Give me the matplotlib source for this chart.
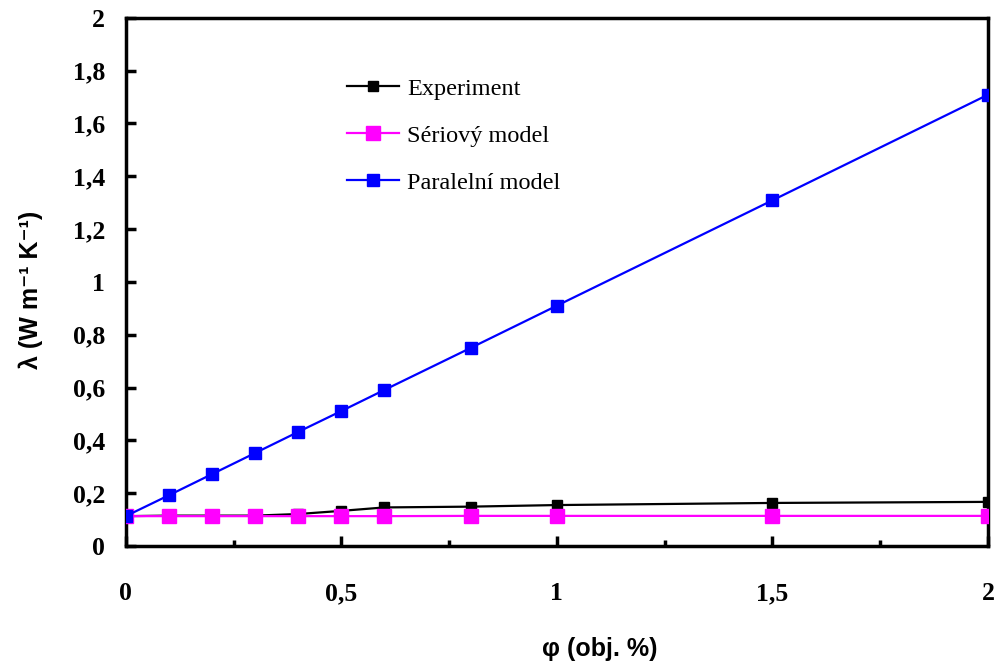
import matplotlib
matplotlib.use('Agg')
import matplotlib.pyplot as plt
from matplotlib.ticker import FuncFormatter, MultipleLocator

# Data
phi = [0, 0.1, 0.2, 0.3, 0.4, 0.5, 0.6, 0.8, 1.0, 1.5, 2.0]
experiment = [0.113, 0.115, 0.115, 0.115, 0.121, 0.133, 0.146, 0.149, 0.155, 0.163, 0.167]
seriovy = [0.113, 0.113, 0.113, 0.113, 0.113, 0.113, 0.113, 0.114, 0.114, 0.114, 0.114]
paralelni = [0.113, 0.192, 0.272, 0.352, 0.432, 0.511, 0.591, 0.750, 0.910, 1.309, 1.709]

fig = plt.figure(figsize=(9.98, 6.61), dpi=100)
ax = fig.add_axes([0.126, 0.174, 0.864, 0.799])

ax.plot(phi, experiment, color='black', lw=1.6, marker='s', ms=7, label='Experiment', zorder=3)
ax.plot(phi, seriovy, color='#ff00ff', lw=1.6, marker='s', ms=10, label='Sériový model', zorder=4)
ax.plot(phi, paralelni, color='#0000ff', lw=1.6, marker='s', ms=8, label='Paralelní model', zorder=5)

ax.set_xlim(0, 2)
ax.set_ylim(0, 2)
ax.xaxis.set_major_locator(MultipleLocator(0.5))
ax.xaxis.set_minor_locator(MultipleLocator(0.25))
ax.yaxis.set_major_locator(MultipleLocator(0.2))

comma = FuncFormatter(lambda v, p: ('%g' % round(v, 2)).replace('.', ','))
ax.xaxis.set_major_formatter(comma)
ax.yaxis.set_major_formatter(comma)

for s in ax.spines.values():
    s.set_linewidth(2.5)
ax.tick_params(axis='both', which='major', direction='in', length=7, width=2.5)
ax.tick_params(axis='x', which='minor', direction='in', length=4, width=2.5)
ax.tick_params(axis='x', which='major', pad=26)
ax.tick_params(axis='y', which='major', pad=15)
for lab in ax.get_xticklabels() + ax.get_yticklabels():
    lab.set_family('Liberation Serif')
    lab.set_fontweight('bold')
    lab.set_fontsize(18.5)

ax.set_xlabel('φ (obj. %)', family=['Liberation Sans', 'DejaVu Sans'], fontweight='bold', fontsize=18)
ax.xaxis.set_label_coords(0.55, -0.172)
ax.set_ylabel('λ (W m⁻¹ K⁻¹)', family=['Liberation Sans', 'DejaVu Sans'],
              fontweight='bold', fontsize=18)
ax.yaxis.set_label_coords(-0.096, 0.485)

leg = ax.legend(loc='upper left', bbox_to_anchor=(0.231, 0.928), frameon=False,
                prop={'family': 'Liberation Serif', 'size': 17.5},
                handlelength=2.15, handletextpad=0.33, labelspacing=1.03, borderpad=0.4)

fig.savefig('out.png', dpi=100)
